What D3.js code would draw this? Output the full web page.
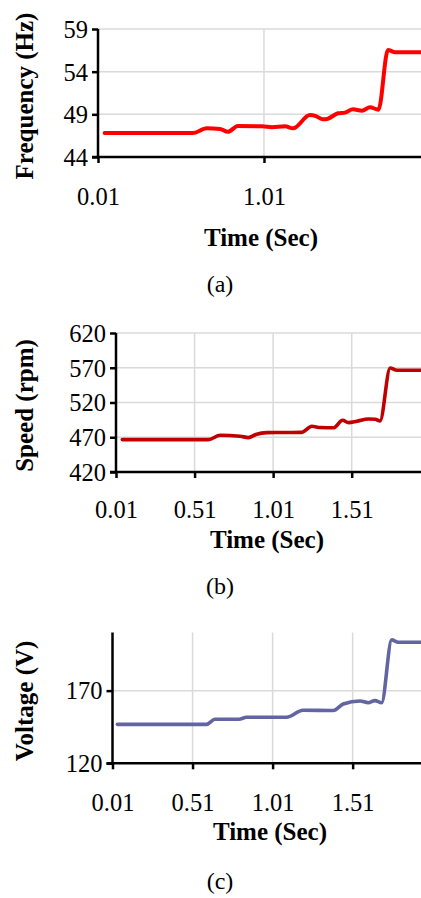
<!DOCTYPE html>
<html>
<head>
<meta charset="utf-8">
<script src="https://cdn.jsdelivr.net/npm/d3@7"></script>
<style>
  html, body { margin: 0; padding: 0; background: #fff; }
  svg { display: block; }
</style>
</head>
<body>
<svg id="chart" width="421" height="898"></svg>
<script>
// ---------- DATA ----------
const timeA = [0.05, 0.58, 0.665, 0.745, 0.793, 0.853, 1.0, 1.058, 1.137, 1.185, 1.287, 1.323, 1.365, 1.395, 1.456, 1.498, 1.546, 1.6, 1.649, 1.70, 1.757, 1.8, 1.96];
const freqA = [46.8, 46.8, 47.36, 47.28, 46.96, 47.63, 47.6, 47.5, 47.6, 47.36, 48.92, 48.8, 48.42, 48.49, 49.12, 49.2, 49.59, 49.43, 49.82, 49.55, 56.54, 56.27, 56.27];

const timeB = [0.05, 0.598, 0.672, 0.80, 0.853, 0.90, 0.97, 1.19, 1.256, 1.31, 1.394, 1.452, 1.49, 1.543, 1.617, 1.66, 1.69, 1.755, 1.798, 1.96];
const speedB = [466.6, 466.6, 472.8, 471.5, 469.5, 474, 476.7, 477, 485.8, 484, 483.6, 494.4, 491, 493, 496.3, 496, 493.4, 569.7, 566.4, 566.4];

const timeC = [0.04, 0.597, 0.65, 0.8, 0.847, 1.097, 1.2, 1.389, 1.451, 1.556, 1.607, 1.649, 1.691, 1.754, 1.795, 1.96];
const voltC = [146.8, 146.8, 150.3, 150.3, 151.7, 151.7, 156.5, 156.3, 160.8, 162.9, 161.7, 163.1, 161.7, 204.9, 203.3, 203.3];

const xTicksA = [0.01, 1.01];
const xTicksBC = [0.01, 0.51, 1.01, 1.51];
const yTicksA = [44, 49, 54, 59];
const yTicksB = [420, 470, 520, 570, 620];
const yTicksC = [120, 170];

const xTitle = "Time (Sec)";
const yTitles = ["Frequency (Hz)", "Speed (rpm)", "Voltage (V)"];
const panelLabels = ["(a)", "(b)", "(c)"];

// ---------- LAYOUT ----------
const svg = d3.select("#chart");
const FONT = "'Liberation Serif', 'Times New Roman', serif";

const panels = [
  { t: timeA, v: freqA, xTicks: xTicksA, yTicks: yTicksA, xDom: [0.01, 1.956], yDom: [44, 59],
    left: 98, right: 421, top: 29, bottom: 157, color: "#FF0000", lw: 4,
    tickLabelY: 205, titleY: 246, titleX: 261, yTitleX: 33, label: panelLabels[0], labelY: 292, yTitle: yTitles[0] },
  { t: timeB, v: speedB, xTicks: xTicksBC, yTicks: yTicksB, xDom: [0.01, 1.951], yDom: [420, 620],
    left: 116, right: 421, top: 333, bottom: 472, color: "#C00000", lw: 3.6,
    tickLabelY: 518, titleY: 548, titleX: 267, yTitleX: 33, label: panelLabels[1], labelY: 594, yTitle: yTitles[1] },
  { t: timeC, v: voltC, xTicks: xTicksBC, yTicks: yTicksC, xDom: [0.01, 1.937], yDom: [120, 210],
    left: 112.5, right: 421, top: 632.5, bottom: 763.3, color: "#6365A3", lw: 3.6,
    tickLabelY: 811, titleY: 840, titleX: 270, yTitleX: 33, label: panelLabels[2], labelY: 889, yTitle: yTitles[2] }
];

panels.forEach(p => {
  const x = d3.scaleLinear().domain(p.xDom).range([p.left, p.right]);
  const y = d3.scaleLinear().domain(p.yDom).range([p.bottom, p.top]);
  const g = svg.append("g");

  // gridlines
  g.selectAll(".hg").data(p.yTicks.filter(d => d !== p.yDom[0])).enter().append("line")
    .attr("x1", p.left).attr("x2", p.right)
    .attr("y1", d => y(d)).attr("y2", d => y(d))
    .attr("stroke", "#DADADA").attr("stroke-width", 1.5);
  g.selectAll(".vg").data(p.xTicks.filter(d => d !== p.xDom[0])).enter().append("line")
    .attr("x1", d => x(d)).attr("x2", d => x(d))
    .attr("y1", p.top).attr("y2", p.bottom)
    .attr("stroke", "#DADADA").attr("stroke-width", 1.5);

  // data line
  const line = d3.line().x((d, i) => x(p.t[i])).y(d => y(d)).curve(d3.curveMonotoneX);
  g.append("path").datum(p.v).attr("d", line)
    .attr("fill", "none").attr("stroke", p.color).attr("stroke-width", p.lw)
    .attr("stroke-linejoin", "round").attr("stroke-linecap", "round");

  // y axis
  const yAxis = d3.axisLeft(y).tickValues(p.yTicks).tickSize(6).tickSizeOuter(0).tickPadding(4)
    .tickFormat(d3.format("d"));
  const ya = g.append("g").attr("transform", `translate(${p.left},0)`).call(yAxis);
  ya.select(".domain").attr("stroke", "#000").attr("stroke-width", 2.5)
    .attr("d", `M0,${p.top}V${p.bottom}`);
  ya.selectAll(".tick line").attr("stroke", "#000").attr("stroke-width", 2.5);
  ya.selectAll(".tick text").attr("font-family", FONT).attr("font-size", 24.5).attr("fill", "#000")
    .attr("dy", "0.34em");

  // x axis
  const xAxis = d3.axisBottom(x).tickValues(p.xTicks).tickSize(6).tickSizeOuter(0)
    .tickFormat(d3.format(".2f"));
  const xa = g.append("g").attr("transform", `translate(0,${p.bottom})`).call(xAxis);
  xa.select(".domain").attr("stroke", "#000").attr("stroke-width", 2.5)
    .attr("d", `M${p.left - 6},0H${p.right}`);
  xa.selectAll(".tick line").attr("stroke", "#000").attr("stroke-width", 2.5);
  xa.selectAll(".tick text").attr("font-family", FONT).attr("font-size", 24.5).attr("fill", "#000")
    .attr("dy", null).attr("y", p.tickLabelY - p.bottom);

  // axis titles
  svg.append("text").attr("x", p.titleX).attr("y", p.titleY)
    .attr("text-anchor", "middle").attr("font-family", FONT).attr("font-weight", "bold")
    .attr("font-size", 25).text(xTitle);
  svg.append("text")
    .attr("transform", `translate(${p.yTitleX},${(p.top + p.bottom) / 2 + 3}) rotate(-90)`)
    .attr("text-anchor", "middle").attr("font-family", FONT).attr("font-weight", "bold")
    .attr("font-size", 25).text(p.yTitle);

  // panel label
  svg.append("text").attr("x", 220).attr("y", p.labelY)
    .attr("text-anchor", "middle").attr("font-family", FONT)
    .attr("font-size", 24).text(p.label);
});
</script>
</body>
</html>
